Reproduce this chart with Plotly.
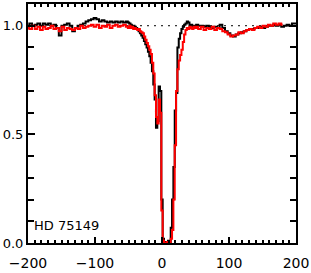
import plotly.graph_objects as go

# velocity grid (km/s)
vel_left = [-200, -196, -192, -188, -184, -180, -176, -172, -168, -164, -160, -156, -152, -148,
            -144, -140, -136, -132, -128, -124, -120, -116, -112, -108, -104, -100, -96, -92,
            -88, -84, -80, -76, -72, -68, -64, -60, -56, -52]
vel_core = [-50, -48, -46, -44, -42, -40, -38, -36, -34, -32, -30, -28, -26, -24, -22, -20,
            -18, -16, -14, -12, -10, -8, -6, -4, -2, 0, 2, 4, 6, 8, 10, 12, 14, 16, 18, 20,
            22, 24, 26, 28, 30, 32, 34, 36, 38, 40, 42, 44, 46, 48, 50]
vel_right = [52, 56, 60, 64, 68, 72, 76, 80, 84, 88, 92, 96, 100, 104, 108, 112, 116, 120,
             124, 128, 132, 136, 140, 144, 148, 152, 156, 160, 164, 168, 172, 176, 180, 184,
             188, 192, 196, 200]

black_left = [1.00, 1.01, 1.00, 1.005, 1.01, 1.00, 1.01, 1.005, 1.01, 1.00, 1.005, 0.99, 0.955,
              1.00, 1.005, 1.01, 1.00, 0.975, 0.99, 1.00, 1.005, 1.01, 1.02, 1.025, 1.03, 1.035,
              1.03, 1.02, 1.025, 1.02, 1.015, 1.02, 1.015, 1.02, 1.015, 1.02, 1.015, 1.02]
black_core = [1.015, 1.01, 1.005, 1.00, 1.00, 0.995, 0.99, 0.985, 0.975, 0.965, 0.955, 0.945,
              0.93, 0.915, 0.90, 0.88, 0.86, 0.83, 0.79, 0.73, 0.66, 0.53, 0.56, 0.72, 0.70,
              0.20, 0.02, 0.00, 0.005, 0.00, 0.01, 0.00, 0.07, 0.20, 0.35, 0.61, 0.69, 0.90,
              0.94, 0.965, 0.985, 0.995, 1.005, 1.01, 1.02, 1.015, 1.00, 1.005, 1.00, 0.995, 1.00]
black_right = [1.005, 1.00, 1.00, 0.995, 1.00, 0.995, 0.99, 0.995, 0.99, 1.005, 0.99, 0.975,
               0.965, 0.955, 0.95, 0.96, 0.965, 0.97, 0.975, 0.98, 0.985, 0.985, 0.99, 0.99,
               0.995, 0.99, 0.995, 1.00, 1.00, 1.005, 1.00, 1.005, 0.995, 1.00, 1.005, 1.00,
               1.01, 1.01]

red_left = [0.99, 0.985, 1.00, 0.985, 0.995, 0.98, 0.995, 0.985, 0.99, 1.00, 0.985, 0.99, 0.975,
            0.995, 0.98, 0.99, 0.985, 0.98, 0.99, 0.985, 1.00, 0.99, 0.995, 1.00, 1.005, 0.995,
            1.005, 0.99, 1.00, 0.995, 1.005, 0.99, 1.00, 1.005, 0.995, 1.00, 1.005, 0.995]
red_core = [0.99, 1.00, 0.99, 0.995, 0.985, 0.99, 0.985, 0.98, 0.985, 0.975, 0.97, 0.965, 0.95,
            0.935, 0.92, 0.905, 0.89, 0.87, 0.83, 0.78, 0.68, 0.58, 0.55, 0.66, 0.60, 0.15,
            0.01, 0.00, 0.00, 0.005, 0.00, 0.00, 0.02, 0.06, 0.20, 0.45, 0.70, 0.80, 0.84, 0.865,
            0.89, 0.925, 0.96, 0.98, 0.99, 0.985, 0.995, 0.99, 0.985, 0.995, 0.99]
red_right = [0.995, 0.985, 0.995, 0.98, 0.99, 0.985, 0.995, 0.98, 0.99, 0.985, 0.975, 0.97,
             0.96, 0.95, 0.955, 0.96, 0.97, 0.965, 0.975, 0.98, 0.985, 0.98, 0.99, 0.995, 0.99,
             1.00, 0.995, 1.005, 1.00, 1.01, 1.005, 1.01, 1.005]

x_ticks = [-200, -100, 0, 100, 200]
y_ticks = [0.0, 0.5, 1.0]
label = "HD 75149"

velocity = vel_left + vel_core + vel_right
black_flux = black_left + black_core + black_right
red_flux = red_left + red_core + red_right

fig = go.Figure()
fig.add_trace(go.Scatter(x=[-200, 200], y=[1.0, 1.0], mode="lines",
                         line=dict(color="black", width=1, dash="2px,5px"), hoverinfo="skip"))
fig.add_trace(go.Scatter(x=velocity, y=black_flux, mode="lines",
                         line=dict(color="black", width=2, shape="hvh")))
fig.add_trace(go.Scatter(x=velocity[:len(red_flux)], y=red_flux, mode="lines",
                         line=dict(color="#ff0000", width=2, shape="hvh")))

fig.add_annotation(x=0, y=0, xref="paper", yref="paper", xanchor="left", yanchor="bottom",
                   xshift=4, yshift=8, text=label, showarrow=False,
                   font=dict(family="DejaVu Sans", size=13, color="black"))

axis_common = dict(showgrid=False, zeroline=False, showline=True, linecolor="black",
                   linewidth=2, mirror="ticks", ticks="inside", tickcolor="black",
                   tickwidth=1.5, automargin=False,
                   tickfont=dict(family="DejaVu Sans", size=14, color="black"))

fig.update_xaxes(range=[-200, 200], tickvals=x_ticks, ticktext=["−200", "−100", "0", "100", "200"],
                 ticklen=6, ticklabelstandoff=6,
                 minor=dict(dtick=10, ticklen=3, ticks="inside", tickcolor="black"),
                 **axis_common)
fig.update_yaxes(range=[0, 1.1], tickvals=y_ticks, ticktext=["0.0", "0.5", "1.0"],
                 ticklen=7, ticklabelstandoff=0,
                 minor=dict(dtick=0.1, ticklen=6, ticks="inside", tickcolor="black"),
                 **axis_common)
fig.update_yaxes(tickfont=dict(family="DejaVu Sans", size=13, color="black"))

fig.update_layout(width=311, height=273, margin=dict(l=28, r=15, t=4, b=30),
                  showlegend=False, plot_bgcolor="white", paper_bgcolor="white")

fig.write_html("out.html", config={"displayModeBar": False},
               post_script="document.body.style.margin='0';document.body.style.padding='0';")
